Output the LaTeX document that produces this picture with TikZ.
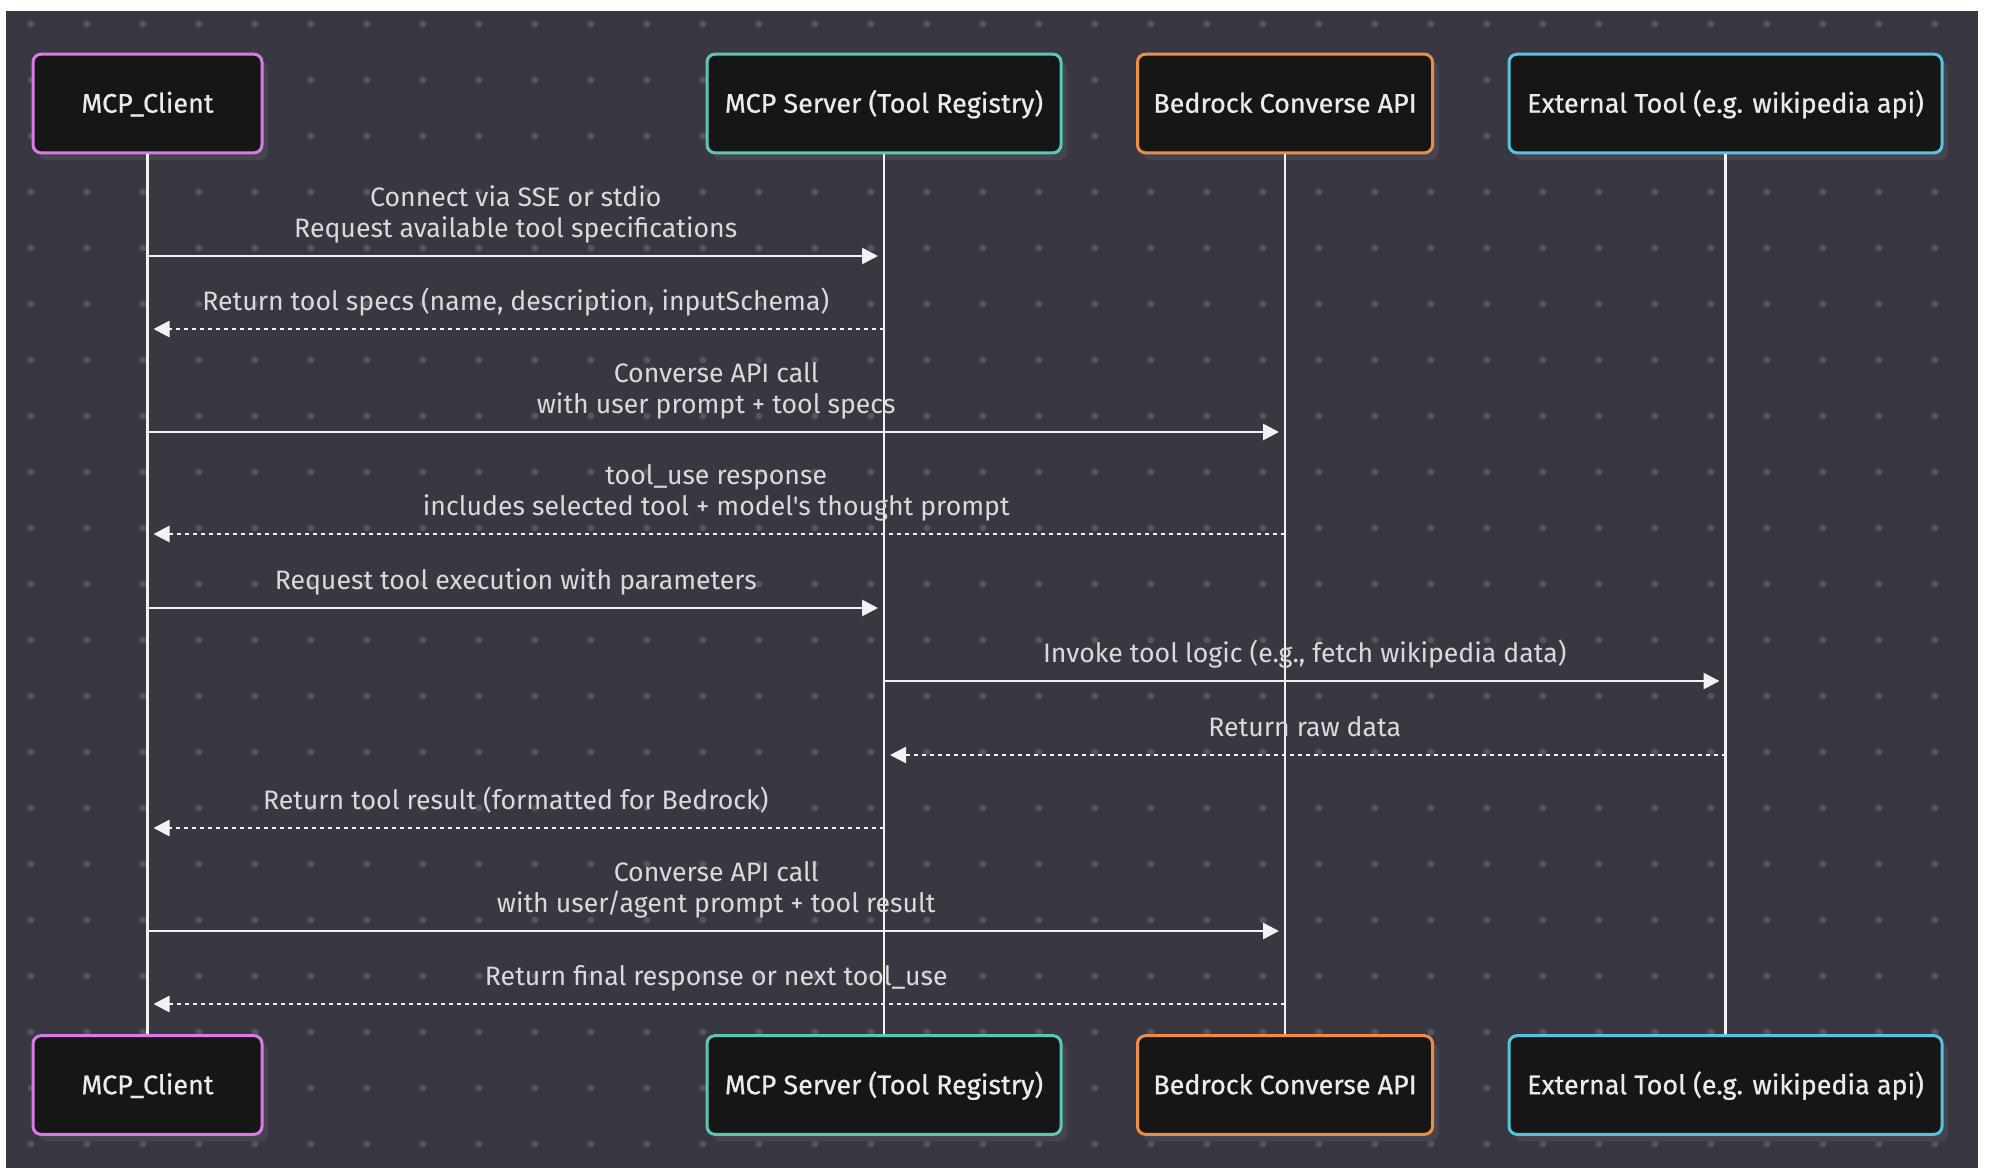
\documentclass[tikz,border=0pt]{standalone}
\usepackage{fontspec}
\newfontfamily\lblfont{Fira Sans}
\newfontfamily\boxfont{Fira Sans}[FakeBold=0.7]
\usetikzlibrary{arrows.meta,shadows}
\definecolor{bg}{HTML}{393742}
\definecolor{dotc}{HTML}{55535D}
\definecolor{boxfill}{HTML}{161616}
\definecolor{shadowc}{HTML}{46444F}
\definecolor{cpink}{HTML}{D97AE6}
\definecolor{cteal}{HTML}{5CC8B2}
\definecolor{corange}{HTML}{EC8E45}
\definecolor{ccyan}{HTML}{58C3E0}
\definecolor{linec}{HTML}{F2F2F2}
\definecolor{textc}{HTML}{DADADA}
\definecolor{boxtext}{HTML}{EBEBEB}
\begin{document}
\begin{tikzpicture}[x=0.75pt,y=-0.75pt,
  actor/.style={draw, line width=2.25pt, fill=boxfill, rounded corners=6pt,
    minimum height=74pt, inner sep=0pt, text=boxtext, text height=18.3pt, text depth=4.5pt,
    font=\boxfont\fontsize{20.2}{24}\selectfont,
    drop shadow={shadow xshift=4.5pt, shadow yshift=-5.5pt, fill=shadowc, opacity=1}},
  lifeline/.style={draw=linec, line width=2pt},
  msg/.style={draw=linec, line width=2pt, -{Triangle[length=12pt,width=12pt]}, shorten >=4.5pt},
  reply/.style={msg, dash pattern=on 3pt off 3pt},
  lbl/.style={font=\lblfont\fontsize{20}{22.8}\selectfont, text=textc, align=center, inner sep=0pt, anchor=base, yshift=14.2pt}
]
\useasboundingbox (0,0) rectangle (1990,1172);
\fill[white] (0,0) rectangle (1990,1172);
\fill[bg] (6,11) rectangle (1978,1168);
\foreach \i in {0,...,34}{\foreach \j in {0,...,20}{\fill[dotc] (31+56*\i,24+56*\j) circle (2.6pt);}}

% actors top
\node[actor, draw=cpink,  minimum width=171.75pt] (c1t) at (147.5,103.5) {MCP\_Client};
\node[actor, draw=cteal,  minimum width=265.5pt] (c2t) at (884,103.5) {MCP Server (Tool Registry)};
\node[actor, draw=corange,minimum width=221.25pt] (c3t) at (1285,103.5) {Bedrock Converse API};
\node[actor, draw=ccyan,  minimum width=324.75pt] (c4t) at (1725.5,103.5) {External Tool (e.g. wikipedia api)};
% actors bottom
\node[actor, draw=cpink,  minimum width=171.75pt] (c1b) at (147.5,1085) {MCP\_Client};
\node[actor, draw=cteal,  minimum width=265.5pt] (c2b) at (884,1085) {MCP Server (Tool Registry)};
\node[actor, draw=corange,minimum width=221.25pt] (c3b) at (1285,1085) {Bedrock Converse API};
\node[actor, draw=ccyan,  minimum width=324.75pt] (c4b) at (1725.5,1085) {External Tool (e.g. wikipedia api)};

% lifelines
\draw[lifeline] (c1t.south) -- (c1b.north);
\draw[lifeline] (c2t.south) -- (c2b.north);
\draw[lifeline] (c3t.south) -- (c3b.north);
\draw[lifeline] (c4t.south) -- (c4b.north);

% message end points
\coordinate (m1a) at (c1t.south |- 0,256);  \coordinate (m1b) at (c2t.south |- 0,256);
\coordinate (m2a) at (c2t.south |- 0,329);  \coordinate (m2b) at (c1t.south |- 0,329);
\coordinate (m3a) at (c1t.south |- 0,432);  \coordinate (m3b) at (c3t.south |- 0,432);
\coordinate (m4a) at (c3t.south |- 0,534);  \coordinate (m4b) at (c1t.south |- 0,534);
\coordinate (m5a) at (c1t.south |- 0,608);  \coordinate (m5b) at (c2t.south |- 0,608);
\coordinate (m6a) at (c2t.south |- 0,681);  \coordinate (m6b) at (c4t.south |- 0,681);
\coordinate (m7a) at (c4t.south |- 0,755);  \coordinate (m7b) at (c2t.south |- 0,755);
\coordinate (m8a) at (c2t.south |- 0,828);  \coordinate (m8b) at (c1t.south |- 0,828);
\coordinate (m9a) at (c1t.south |- 0,931);  \coordinate (m9b) at (c3t.south |- 0,931);
\coordinate (m10a) at (c3t.south |- 0,1004); \coordinate (m10b) at (c1t.south |- 0,1004);

\draw[msg]   (m1a) -- (m1b);
\draw[reply] (m2a) -- (m2b);
\draw[msg]   (m3a) -- (m3b);
\draw[reply] (m4a) -- (m4b);
\draw[msg]   (m5a) -- (m5b);
\draw[msg]   (m6a) -- (m6b);
\draw[reply] (m7a) -- (m7b);
\draw[reply] (m8a) -- (m8b);
\draw[msg]   (m9a) -- (m9b);
\draw[reply] (m10a) -- (m10b);

\path (m1a) -- (m1b) node[midway, lbl] (l1) {Connect via SSE or stdio\\Request available tool specifications};
\path (m2a) -- (m2b) node[midway, lbl] (l2) {Return tool specs (name, description, inputSchema)};
\path (m3a) -- (m3b) node[midway, lbl] (l3) {Converse API call\\with user prompt + tool specs};
\path (m4a) -- (m4b) node[midway, lbl] (l4) {tool\_use response\\includes selected tool + model's thought prompt};
\path (m5a) -- (m5b) node[midway, lbl] (l5) {Request tool execution with parameters};
\path (m6a) -- (m6b) node[midway, lbl] (l6) {Invoke tool logic (e.g., fetch wikipedia data)};
\path (m7a) -- (m7b) node[midway, lbl] (l7) {Return raw data};
\path (m8a) -- (m8b) node[midway, lbl] (l8) {Return tool result (formatted for Bedrock)};
\path (m9a) -- (m9b) node[midway, lbl] (l9) {Converse API call\\with user/agent prompt + tool result};
\path (m10a) -- (m10b) node[midway, lbl] (l10) {Return final response or next tool\_use};
\end{tikzpicture}
\end{document}
